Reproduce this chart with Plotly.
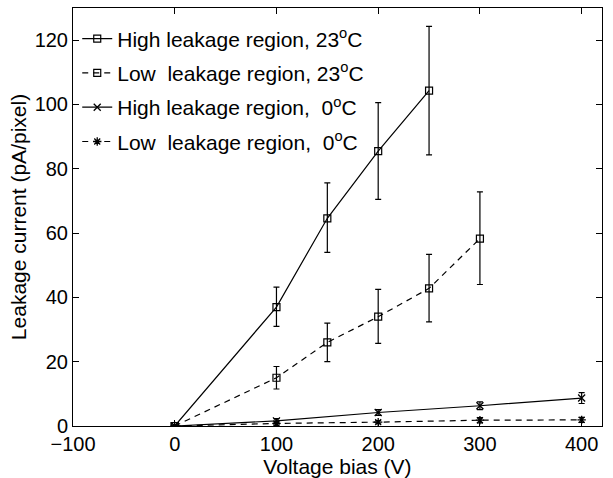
import plotly.graph_objects as go

# Data
x_high23 = [0, 100, 150, 200, 250]
y_high23 = [0, 37, 64.6, 85.5, 104.3]
e_high23_plus = [0, 6.2, 11.0, 15.1, 20.0]
e_high23_minus = [0, 6.0, 10.6, 15.0, 20.0]

x_low23 = [0, 100, 150, 200, 250, 300]
y_low23 = [0, 15, 26, 34, 42.8, 58.3]
e_low23_plus = [0, 3.5, 6.0, 8.5, 10.6, 14.5]
e_low23_minus = [0, 3.5, 6.0, 8.3, 10.4, 14.3]

x_high0 = [0, 100, 200, 300, 400]
y_high0 = [0, 1.6, 4.2, 6.3, 8.7]
e_high0 = [0, 0.7, 0.9, 1.2, 1.7]

x_low0 = [0, 100, 200, 300, 400]
y_low0 = [0, 0.8, 1.2, 1.8, 1.9]
e_low0 = [0, 0.5, 0.5, 0.8, 0.8]

names = ["High leakage region, 23<sup>o</sup>C",
         "Low  leakage region, 23<sup>o</sup>C",
         "High leakage region,  0<sup>o</sup>C",
         "Low  leakage region,  0<sup>o</sup>C"]

x_ticks = [-100, 0, 100, 200, 300, 400]
x_tick_text = ["\u2212100", "0", "100", "200", "300", "400"]
y_ticks = [0, 20, 40, 60, 80, 100, 120]

FONT = "Liberation Sans, Arial, Helvetica, sans-serif"
TICK_SIZE = 20
TITLE_SIZE = 21

def err(plus, minus=None):
    d = dict(type="data", array=plus, visible=True, color="black", thickness=1.2, width=3)
    if minus is not None:
        d["arrayminus"] = minus
        d["symmetric"] = False
    return d

fig = go.Figure()
fig.add_trace(go.Scatter(x=x_high23, y=y_high23, name=names[0], mode="lines+markers",
                         line=dict(color="black", width=1.2, dash="solid"),
                         marker=dict(symbol="square-open", size=7, color="black", line=dict(width=1.2)),
                         error_y=err(e_high23_plus, e_high23_minus), legendgroup="a"))
fig.add_trace(go.Scatter(x=x_low23, y=y_low23, name=names[1], mode="lines+markers",
                         line=dict(color="black", width=1.2, dash="6px,5px"),
                         marker=dict(symbol="square-open", size=7, color="black", line=dict(width=1.2)),
                         error_y=err(e_low23_plus, e_low23_minus), legendgroup="b"))
fig.add_trace(go.Scatter(x=x_high0, y=y_high0, name=names[2], mode="lines+markers",
                         line=dict(color="black", width=1.2, dash="solid"),
                         marker=dict(symbol="x-thin-open", size=7, color="black", line=dict(width=1.3, color="black")),
                         error_y=err(e_high0), legendgroup="c"))
fig.add_trace(go.Scatter(x=x_low0, y=y_low0, name=names[3], mode="lines+markers",
                         line=dict(color="black", width=1.2, dash="6px,5px"),
                         marker=dict(symbol="asterisk-open", size=7, color="black", line=dict(width=1.3, color="black")),
                         error_y=err(e_low0), legendgroup="d"))

axis_common = dict(showline=True, linecolor="black", linewidth=1, mirror="ticks",
                   ticks="inside", ticklen=6, tickcolor="black", showgrid=False, zeroline=False,
                   tickfont=dict(family=FONT, size=TICK_SIZE, color="black"))

fig.update_xaxes(range=[-100, 420], tickvals=x_ticks, ticktext=x_tick_text,
                 title=dict(text="Voltage bias (V)", font=dict(family=FONT, size=TITLE_SIZE, color="black"), standoff=0),
                 **axis_common)
fig.update_yaxes(range=[0, 130], tickvals=y_ticks,
                 title=dict(text="Leakage current (pA/pixel)", font=dict(family=FONT, size=TITLE_SIZE, color="black"), standoff=2),
                 **axis_common)

fig.update_layout(
    width=613, height=478,
    margin=dict(l=73, r=11, t=8, b=52),
    paper_bgcolor="white", plot_bgcolor="white",
    font=dict(family=FONT, size=TITLE_SIZE, color="black"),
    showlegend=True,
    legend=dict(x=0.008, y=0.975, xanchor="left", yanchor="top", bgcolor="rgba(0,0,0,0)",
                font=dict(family=FONT, size=TITLE_SIZE, color="black"), tracegroupgap=4,
                itemwidth=30),
)

fig.write_html("out.html")
